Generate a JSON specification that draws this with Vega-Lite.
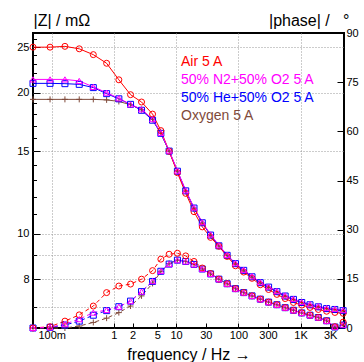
{
  "$schema": "https://vega.github.io/schema/vega-lite/v6.json",
  "width": 311,
  "height": 295,
  "autosize": {"type": "none"},
  "padding": {"left": 33, "top": 33, "right": 20, "bottom": 34},
  "config": {
    "font": "Liberation Sans",
    "view": {"stroke": "black", "strokeWidth": 2},
    "axis": {"domain": false, "labelFont": "Liberation Sans", "titleFont": "Liberation Sans", "titleFontWeight": "normal", "labelColor": "black", "titleColor": "black", "tickColor": "black", "gridColor": "#999999", "gridDash": [1, 2], "labelFontSize": 11, "titleFontSize": 16}
  },
  "datasets": {
    "pts": [
      {"series":"Oxygen 5 A","freq":0.05,"Z":19.35,"phase":0},
      {"series":"Oxygen 5 A","freq":0.094,"Z":19.35,"phase":0},
      {"series":"Oxygen 5 A","freq":0.163,"Z":19.35,"phase":0},
      {"series":"Oxygen 5 A","freq":0.277,"Z":19.35,"phase":0.6},
      {"series":"Oxygen 5 A","freq":0.466,"Z":19.35,"phase":1.7},
      {"series":"Oxygen 5 A","freq":0.763,"Z":19.3,"phase":3.0},
      {"series":"Oxygen 5 A","freq":1.2,"Z":19.15,"phase":4.7},
      {"series":"Oxygen 5 A","freq":1.85,"Z":18.85,"phase":6.7},
      {"series":"Oxygen 5 A","freq":2.78,"Z":18.4,"phase":9.8},
      {"series":"Oxygen 5 A","freq":4.18,"Z":17.54,"phase":13.6},
      {"series":"Oxygen 5 A","freq":5.68,"Z":16.38,"phase":17.2},
      {"series":"Oxygen 5 A","freq":7.72,"Z":15.0,"phase":19.7},
      {"series":"Oxygen 5 A","freq":10.49,"Z":13.6,"phase":20.7},
      {"series":"Oxygen 5 A","freq":14.26,"Z":12.34,"phase":20.3},
      {"series":"Oxygen 5 A","freq":19.38,"Z":11.34,"phase":19.4},
      {"series":"Oxygen 5 A","freq":26.34,"Z":10.55,"phase":18.0},
      {"series":"Oxygen 5 A","freq":35.8,"Z":9.93,"phase":16.5},
      {"series":"Oxygen 5 A","freq":48.65,"Z":9.42,"phase":14.9},
      {"series":"Oxygen 5 A","freq":66.1,"Z":8.99,"phase":13.5},
      {"series":"Oxygen 5 A","freq":89.9,"Z":8.63,"phase":12.0},
      {"series":"Oxygen 5 A","freq":122.1,"Z":8.35,"phase":10.8},
      {"series":"Oxygen 5 A","freq":166,"Z":8.09,"phase":9.8},
      {"series":"Oxygen 5 A","freq":225.6,"Z":7.86,"phase":8.8},
      {"series":"Oxygen 5 A","freq":306.6,"Z":7.69,"phase":7.9},
      {"series":"Oxygen 5 A","freq":416.7,"Z":7.52,"phase":7.1},
      {"series":"Oxygen 5 A","freq":566,"Z":7.36,"phase":6.2},
      {"series":"Oxygen 5 A","freq":769.6,"Z":7.24,"phase":5.4},
      {"series":"Oxygen 5 A","freq":1046,"Z":7.13,"phase":4.6},
      {"series":"Oxygen 5 A","freq":1421,"Z":7.05,"phase":3.9},
      {"series":"Oxygen 5 A","freq":1932,"Z":6.98,"phase":3.2},
      {"series":"Oxygen 5 A","freq":2625,"Z":6.92,"phase":2.2},
      {"series":"Oxygen 5 A","freq":3568,"Z":6.89,"phase":0.3},
      {"series":"Oxygen 5 A","freq":4849,"Z":6.85,"phase":0.9},

      {"series":"50% He+50% O2 5 A","freq":0.05,"Z":20.93,"phase":0},
      {"series":"50% He+50% O2 5 A","freq":0.094,"Z":20.93,"phase":0.2},
      {"series":"50% He+50% O2 5 A","freq":0.163,"Z":20.9,"phase":0.9},
      {"series":"50% He+50% O2 5 A","freq":0.277,"Z":20.83,"phase":2.1},
      {"series":"50% He+50% O2 5 A","freq":0.466,"Z":20.5,"phase":3.9},
      {"series":"50% He+50% O2 5 A","freq":0.763,"Z":19.9,"phase":5.3},
      {"series":"50% He+50% O2 5 A","freq":1.2,"Z":19.4,"phase":6.5},
      {"series":"50% He+50% O2 5 A","freq":1.85,"Z":18.88,"phase":8.2},
      {"series":"50% He+50% O2 5 A","freq":2.78,"Z":18.34,"phase":11.1},
      {"series":"50% He+50% O2 5 A","freq":4.18,"Z":17.47,"phase":14.2},
      {"series":"50% He+50% O2 5 A","freq":5.68,"Z":16.38,"phase":17.3},
      {"series":"50% He+50% O2 5 A","freq":7.72,"Z":15.01,"phase":19.5},
      {"series":"50% He+50% O2 5 A","freq":10.49,"Z":13.6,"phase":20.7},
      {"series":"50% He+50% O2 5 A","freq":14.26,"Z":12.35,"phase":20.3},
      {"series":"50% He+50% O2 5 A","freq":19.38,"Z":11.35,"phase":19.4},
      {"series":"50% He+50% O2 5 A","freq":26.34,"Z":10.56,"phase":18.0},
      {"series":"50% He+50% O2 5 A","freq":35.8,"Z":9.94,"phase":16.5},
      {"series":"50% He+50% O2 5 A","freq":48.65,"Z":9.43,"phase":14.9},
      {"series":"50% He+50% O2 5 A","freq":66.1,"Z":9.0,"phase":13.5},
      {"series":"50% He+50% O2 5 A","freq":89.9,"Z":8.64,"phase":12.0},
      {"series":"50% He+50% O2 5 A","freq":122.1,"Z":8.36,"phase":10.8},
      {"series":"50% He+50% O2 5 A","freq":166,"Z":8.1,"phase":9.8},
      {"series":"50% He+50% O2 5 A","freq":225.6,"Z":7.87,"phase":8.8},
      {"series":"50% He+50% O2 5 A","freq":306.6,"Z":7.7,"phase":7.9},
      {"series":"50% He+50% O2 5 A","freq":416.7,"Z":7.53,"phase":7.1},
      {"series":"50% He+50% O2 5 A","freq":566,"Z":7.37,"phase":6.2},
      {"series":"50% He+50% O2 5 A","freq":769.6,"Z":7.25,"phase":5.4},
      {"series":"50% He+50% O2 5 A","freq":1046,"Z":7.14,"phase":4.6},
      {"series":"50% He+50% O2 5 A","freq":1421,"Z":7.06,"phase":3.9},
      {"series":"50% He+50% O2 5 A","freq":1932,"Z":6.99,"phase":3.2},
      {"series":"50% He+50% O2 5 A","freq":2625,"Z":6.93,"phase":2.2},
      {"series":"50% He+50% O2 5 A","freq":3568,"Z":6.9,"phase":0.3},
      {"series":"50% He+50% O2 5 A","freq":4849,"Z":6.86,"phase":0.9},

      {"series":"Air 5 A","freq":0.05,"Z":25.0,"phase":0},
      {"series":"Air 5 A","freq":0.094,"Z":25.0,"phase":0.4},
      {"series":"Air 5 A","freq":0.163,"Z":25.1,"phase":2.1},
      {"series":"Air 5 A","freq":0.277,"Z":24.8,"phase":4.0},
      {"series":"Air 5 A","freq":0.466,"Z":24.1,"phase":6.7},
      {"series":"Air 5 A","freq":0.763,"Z":23.1,"phase":10.8},
      {"series":"Air 5 A","freq":1.2,"Z":21.3,"phase":12.8},
      {"series":"Air 5 A","freq":1.85,"Z":19.8,"phase":13.4},
      {"series":"Air 5 A","freq":2.78,"Z":19.1,"phase":14.9},
      {"series":"Air 5 A","freq":4.18,"Z":18.0,"phase":17.5},
      {"series":"Air 5 A","freq":5.68,"Z":16.6,"phase":21.0},
      {"series":"Air 5 A","freq":7.72,"Z":15.0,"phase":22.5},
      {"series":"Air 5 A","freq":10.49,"Z":13.5,"phase":22.8},
      {"series":"Air 5 A","freq":14.26,"Z":12.2,"phase":22.0},
      {"series":"Air 5 A","freq":19.38,"Z":11.15,"phase":20.3},
      {"series":"Air 5 A","freq":26.34,"Z":10.35,"phase":18.3},
      {"series":"Air 5 A","freq":35.8,"Z":9.83,"phase":16.6},
      {"series":"Air 5 A","freq":48.65,"Z":9.41,"phase":14.9},
      {"series":"Air 5 A","freq":66.1,"Z":8.95,"phase":13.5},
      {"series":"Air 5 A","freq":89.9,"Z":8.55,"phase":12.0},
      {"series":"Air 5 A","freq":122.1,"Z":8.29,"phase":10.8},
      {"series":"Air 5 A","freq":166,"Z":8.04,"phase":9.8},
      {"series":"Air 5 A","freq":225.6,"Z":7.79,"phase":8.8},
      {"series":"Air 5 A","freq":306.6,"Z":7.61,"phase":7.9},
      {"series":"Air 5 A","freq":416.7,"Z":7.43,"phase":7.1},
      {"series":"Air 5 A","freq":566,"Z":7.28,"phase":6.2},
      {"series":"Air 5 A","freq":769.6,"Z":7.14,"phase":5.4},
      {"series":"Air 5 A","freq":1046,"Z":7.05,"phase":4.6},
      {"series":"Air 5 A","freq":1421,"Z":6.97,"phase":3.9},
      {"series":"Air 5 A","freq":1932,"Z":6.90,"phase":3.2},
      {"series":"Air 5 A","freq":2625,"Z":6.84,"phase":2.2},
      {"series":"Air 5 A","freq":3568,"Z":6.80,"phase":0.4},
      {"series":"Air 5 A","freq":4849,"Z":6.77,"phase":1.8},

      {"series":"50% N2+50% O2 5 A","freq":0.05,"Z":21.34,"phase":0},
      {"series":"50% N2+50% O2 5 A","freq":0.094,"Z":21.34,"phase":0.2},
      {"series":"50% N2+50% O2 5 A","freq":0.163,"Z":21.34,"phase":1.2},
      {"series":"50% N2+50% O2 5 A","freq":0.277,"Z":21.18,"phase":2.7},
      {"series":"50% N2+50% O2 5 A","freq":0.466,"Z":20.57,"phase":4.7},
      {"series":"50% N2+50% O2 5 A","freq":0.763,"Z":20.0,"phase":5.5},
      {"series":"50% N2+50% O2 5 A","freq":1.2,"Z":19.45,"phase":6.5},
      {"series":"50% N2+50% O2 5 A","freq":1.85,"Z":18.88,"phase":8.2},
      {"series":"50% N2+50% O2 5 A","freq":2.78,"Z":18.43,"phase":11.1},
      {"series":"50% N2+50% O2 5 A","freq":4.18,"Z":17.56,"phase":14.3},
      {"series":"50% N2+50% O2 5 A","freq":5.68,"Z":16.42,"phase":17.4},
      {"series":"50% N2+50% O2 5 A","freq":7.72,"Z":15.05,"phase":19.5},
      {"series":"50% N2+50% O2 5 A","freq":10.49,"Z":13.64,"phase":20.7},
      {"series":"50% N2+50% O2 5 A","freq":14.26,"Z":12.38,"phase":20.3},
      {"series":"50% N2+50% O2 5 A","freq":19.38,"Z":11.38,"phase":19.4},
      {"series":"50% N2+50% O2 5 A","freq":26.34,"Z":10.59,"phase":18.0},
      {"series":"50% N2+50% O2 5 A","freq":35.8,"Z":9.97,"phase":16.5},
      {"series":"50% N2+50% O2 5 A","freq":48.65,"Z":9.46,"phase":14.9},
      {"series":"50% N2+50% O2 5 A","freq":66.1,"Z":9.02,"phase":13.5},
      {"series":"50% N2+50% O2 5 A","freq":89.9,"Z":8.66,"phase":12.0},
      {"series":"50% N2+50% O2 5 A","freq":122.1,"Z":8.38,"phase":10.8},
      {"series":"50% N2+50% O2 5 A","freq":166,"Z":8.12,"phase":9.8},
      {"series":"50% N2+50% O2 5 A","freq":225.6,"Z":7.89,"phase":8.8},
      {"series":"50% N2+50% O2 5 A","freq":306.6,"Z":7.72,"phase":7.9},
      {"series":"50% N2+50% O2 5 A","freq":416.7,"Z":7.55,"phase":7.1},
      {"series":"50% N2+50% O2 5 A","freq":566,"Z":7.39,"phase":6.2},
      {"series":"50% N2+50% O2 5 A","freq":769.6,"Z":7.27,"phase":5.4},
      {"series":"50% N2+50% O2 5 A","freq":1046,"Z":7.16,"phase":4.6},
      {"series":"50% N2+50% O2 5 A","freq":1421,"Z":7.08,"phase":3.9},
      {"series":"50% N2+50% O2 5 A","freq":1932,"Z":7.01,"phase":3.2},
      {"series":"50% N2+50% O2 5 A","freq":2625,"Z":6.95,"phase":2.2},
      {"series":"50% N2+50% O2 5 A","freq":3568,"Z":6.92,"phase":0.4},
      {"series":"50% N2+50% O2 5 A","freq":4849,"Z":6.88,"phase":1.0}
    ]
  },
  "data": {"name": "pts"},
  "encoding": {
    "x": {
      "field": "freq", "type": "quantitative",
      "scale": {"type": "log", "domain": [0.05, 5000], "nice": false},
      "axis": {
        "values": [0.1, 1, 2, 5, 10, 30, 100, 300, 1000, 3000],
        "labelExpr": "datum.value < 1 ? '100m' : datum.value >= 1000 ? (datum.value / 1000) + 'K' : '' + datum.value",
        "labelFontSize": 11,
        "tickSize": -5,
        "labelPadding": 6,
        "grid": true,
        "gridOpacity": {"condition": {"test": "datum.value == 0.1 || datum.value == 1 || datum.value == 10 || datum.value == 100 || datum.value == 1000", "value": 1}, "value": 0},
        "title": "frequency / Hz →",
        "titlePadding": 6
      }
    },
    "color": {
      "field": "series", "type": "nominal",
      "scale": {"domain": ["Air 5 A", "50% N2+50% O2 5 A", "50% He+50% O2 5 A", "Oxygen 5 A"], "range": ["#ff0000", "#ff00ff", "#0000ff", "#7f4a3a"]},
      "legend": {
        "orient": "none", "legendX": 134, "legendY": 22, "title": null,
        "labelFontSize": 14, "labelFont": "Liberation Sans",
        "symbolSize": 0, "symbolStrokeWidth": 0, "symbolOpacity": 0,
        "labelOffset": 0, "rowPadding": 4, "padding": 0,
        "encode": {"labels": {"update": {"fill": {"scale": "color", "field": "value"}}}}
      }
    }
  },
  "layer": [
    {
      "encoding": {
        "y": {
          "field": "Z", "type": "quantitative",
          "scale": {"type": "log", "domain": [6.3, 26.8], "nice": false},
          "axis": {
            "orient": "left",
            "values": [7, 8, 9, 10, 11, 12, 13, 14, 15, 16, 17, 18, 19, 20, 21, 22, 23, 24, 25, 26],
            "format": "d",
            "labelExpr": "indexof([8, 10, 15, 20, 25], datum.value) >= 0 ? datum.label : ''",
            "grid": true,
            "gridOpacity": {"condition": {"test": "indexof([7, 8, 9, 10, 15, 20, 25], datum.value) >= 0", "value": 1}, "value": 0},
            "tickSize": {"condition": {"test": "indexof([8, 10, 15, 20, 25], datum.value) >= 0", "value": -7}, "value": -3.5},
            "labelPadding": 11,
            "title": "|Z| / mΩ",
            "titleAngle": 0, "titleAlign": "left", "titleBaseline": "alphabetic",
            "titleX": 0, "titleY": -8
          }
        }
      },
      "layer": [
        {"mark": {"type": "line", "strokeWidth": 1}},
        {
          "mark": {"type": "point", "filled": false, "size": 36, "strokeWidth": 1, "opacity": 1},
          "encoding": {"shape": {"field": "series", "type": "nominal", "scale": {"domain": ["Air 5 A", "50% N2+50% O2 5 A", "50% He+50% O2 5 A", "Oxygen 5 A"], "range": ["circle", "triangle-up", "square", "M-1,0H1M0,-1V1"]}, "legend": null}}
        }
      ]
    },
    {
      "encoding": {
        "y": {
          "field": "phase", "type": "quantitative",
          "scale": {"domain": [0, 90], "nice": false},
          "axis": {
            "orient": "right",
            "values": [0, 15, 30, 45, 60, 75, 90],
            "grid": false,
            "tickSize": -7,
            "labelPadding": 9,
            "title": "|phase| /\u00a0\u00a0\u00a0°",
            "titleAngle": 0, "titleAlign": "right", "titleBaseline": "alphabetic",
            "titleX": 5, "titleY": -8
          }
        }
      },
      "layer": [
        {"mark": {"type": "line", "strokeWidth": 1, "strokeDash": [4, 3]}},
        {
          "mark": {"type": "point", "filled": false, "size": 36, "strokeWidth": 1, "opacity": 1},
          "encoding": {"shape": {"field": "series", "type": "nominal", "scale": {"domain": ["Air 5 A", "50% N2+50% O2 5 A", "50% He+50% O2 5 A", "Oxygen 5 A"], "range": ["circle", "triangle-up", "square", "M-1,0H1M0,-1V1"]}, "legend": null}}
        }
      ]
    }
  ],
  "resolve": {"scale": {"y": "independent"}, "axis": {"y": "independent"}}
}
